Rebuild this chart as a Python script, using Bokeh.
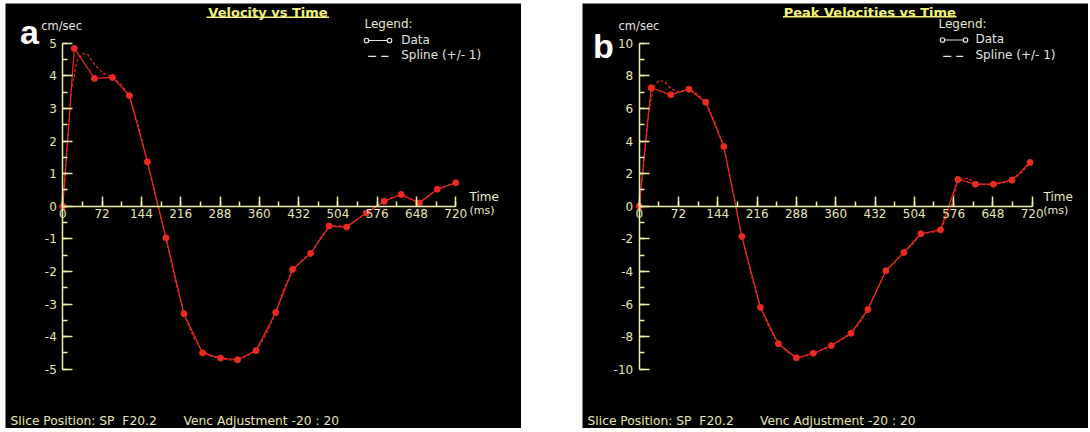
from bokeh.plotting import figure
from bokeh.models import Range1d, SingleIntervalTicker, LinearAxis, PrintfTickFormatter, Spacer
from bokeh.layouts import row, column
from bokeh.embed import file_html
from bokeh.resources import INLINE
from bokeh.core.properties import value

# ---------------- data ----------------
time_a = [0, 21, 58, 91, 122, 155, 189, 222, 256, 289, 320, 354, 390, 421, 454, 488, 520, 556, 589, 620, 653, 686, 720]
vel_a = [0, 4.84, 3.92, 3.95, 3.39, 1.36, -0.97, -3.30, -4.50, -4.66, -4.71, -4.43, -3.26, -1.94, -1.45,
         -0.61, -0.64, -0.21, 0.15, 0.36, 0.10, 0.52, 0.72]
spline_t_a = [0, 8, 16, 26, 36, 46, 58, 72, 91, 106, 122, 138, 155, 172, 189, 205, 222, 239, 256, 272, 289,
              305, 320, 337, 354, 372, 390, 405, 421, 437, 454, 471, 488, 504, 520, 538, 556, 572, 589, 605,
              620, 637, 653, 670, 686, 703, 720]
spline_a = [0, 1.8, 3.6, 4.45, 4.68, 4.65, 4.35, 4.1, 3.95, 3.75, 3.39, 2.5, 1.36, 0.15, -0.97, -2.2, -3.3,
            -4.0, -4.45, -4.6, -4.66, -4.72, -4.72, -4.6, -4.43, -3.95, -3.26, -2.55, -1.94, -1.68, -1.45,
            -1.0, -0.62, -0.6, -0.62, -0.42, -0.2, -0.02, 0.15, 0.28, 0.34, 0.22, 0.12, 0.32, 0.52, 0.63, 0.72]

time_b = [0, 22, 58, 91, 122, 155, 188, 222, 255, 288, 319, 352, 388, 419, 452, 485, 516, 552, 584, 616, 649, 683, 716]
vel_b = [0, 7.26, 6.83, 7.18, 6.38, 3.66, -1.86, -6.20, -8.44, -9.30, -9.02, -8.55, -7.79, -6.34, -3.96,
         -2.84, -1.69, -1.45, 1.64, 1.35, 1.35, 1.60, 2.68]
spline_t_b = [0, 8, 16, 26, 36, 46, 58, 72, 91, 106, 122, 138, 155, 172, 188, 205, 222, 239, 255, 272, 288,
              305, 319, 337, 352, 371, 388, 405, 419, 437, 452, 470, 485, 503, 516, 537, 552, 570, 584, 603,
              616, 636, 649, 668, 683, 702, 716]
spline_b = [0, 2.5, 5.5, 7.3, 7.7, 7.65, 7.2, 7.0, 7.18, 6.9, 6.38, 5.2, 3.66, 0.9, -1.86, -4.2, -6.2, -7.5,
            -8.44, -8.95, -9.30, -9.2, -9.02, -8.8, -8.55, -8.2, -7.79, -7.1, -6.34, -5.0, -3.96, -3.35,
            -2.84, -2.25, -1.69, -1.6, -1.45, -0.2, 1.64, 1.72, 1.35, 1.32, 1.35, 1.45, 1.60, 2.1, 2.68]

x_tick_interval = 72
x_max = 720

titles = ["Velocity vs Time", "Peak Velocities vs Time"]
panel_letters = ["a", "b"]
unit_label = "cm/sec"
legend_labels = ["Legend:", "Data", "Spline (+/- 1)"]
footer_left = "Slice Position: SP\u00a0\u00a0F20.2"
footer_right = "Venc Adjustment -20 : 20"

RED = "#ec2a22"
AXIS = "#f0f0a8"
TICKLBL = "#e6e6b4"
TITLE = "#f2f27a"
WHITE = "#e4e4e4"
FONT = value("DejaVu Sans")

TOP, BOTTOM = 3, 428


def make_panel(left, right, ox, oy, sx, sy, ymax, yint, t, v, st, sv, title, letter, L):
    """L: dict of page-pixel positions for decorations."""
    X = lambda px: (px - ox) / sx
    Y = lambda py: (oy - py) / sy
    p = figure(width=right - left, height=BOTTOM - TOP,
               x_range=Range1d(X(left), X(right)), y_range=Range1d(Y(BOTTOM), Y(TOP)),
               output_backend="svg", toolbar_location=None,
               x_axis_location=None, y_axis_location=None,
               min_border=0, min_border_left=0, min_border_right=0, min_border_top=0, min_border_bottom=0,
               background_fill_color="black", border_fill_color="black", outline_line_color=None)
    p.grid.visible = False

    common = dict(fixed_location=0, axis_line_color=AXIS, axis_line_width=1.5,
                  major_tick_in=10, major_tick_out=0, minor_tick_in=5, minor_tick_out=0,
                  major_tick_line_color=AXIS, minor_tick_line_color=AXIS,
                  major_tick_line_width=1.5, minor_tick_line_width=1.5,
                  major_label_text_color=TICKLBL, major_label_text_font="DejaVu Sans",
                  major_label_text_font_size="12px", formatter=PrintfTickFormatter(format="%d"))
    xaxis = LinearAxis(bounds=(0, x_max),
                       ticker=SingleIntervalTicker(interval=x_tick_interval, num_minor_ticks=2),
                       major_label_standoff=3, **common)
    p.add_layout(xaxis, "below")
    yaxis = LinearAxis(bounds=(-ymax, ymax),
                       ticker=SingleIntervalTicker(interval=yint, num_minor_ticks=2),
                       major_label_standoff=6, **common)
    p.add_layout(yaxis, "left")

    # spline and data
    p.line(st, sv, line_color=RED, line_width=1.3, line_dash="3 2", line_alpha=0.9)
    p.line(t, v, line_color=RED, line_width=1.2)
    p.scatter(t, v, size=6, marker="circle", fill_color=RED, line_color=RED)

    def txt(px, py, s, size, color, align="left", baseline="middle", font=FONT, style="normal"):
        p.text(x=[X(px)], y=[Y(py)], text=[s], text_font=font, text_font_size=size,
               text_color=color, text_align=align, text_baseline=baseline, text_font_style=style)

    # panel letter and unit
    txt(L["letter"][0], L["letter"][1], letter, "34px", "white", baseline="alphabetic",
        font=value("Liberation Sans"), style="bold")
    txt(L["unit"][0], L["unit"][1], unit_label, "11.5px", WHITE)
    # title with underline
    txt(L["title"][0], L["title"][1], title, "13px", TITLE, align="center", style="bold")
    p.line([X(L["uline"][0]), X(L["uline"][1])], [Y(L["uline"][2])] * 2, line_color=TITLE, line_width=1.5)
    # legend
    txt(L["leg"][0], L["leg"][1], legend_labels[0], "12px", "#e8e8d4")
    mx0, mx1, my = L["legdata"]
    p.line([X(mx0), X(mx1)], [Y(my)] * 2, line_color=WHITE, line_width=1.2)
    p.scatter([X(mx0), X(mx1)], [Y(my)] * 2, size=4.5, marker="circle", fill_color="black",
              line_color=WHITE, line_width=1.2)
    txt(L["legtext"], my - 1, legend_labels[1], "12px", WHITE)
    dx0, dx1, dy = L["legspl"]
    p.line([X(dx0), X(dx1)], [Y(dy)] * 2, line_color=WHITE, line_width=1.2, line_dash="8 5")
    txt(L["legtext"], dy - 1.5, legend_labels[2], "12px", WHITE)
    # axis title
    txt(L["time"][0], L["time"][1], "Time", "12px", "#ececcc")
    txt(L["ms"][0], L["ms"][1], "(ms)", "11px", "#ececcc")
    # footer
    txt(L["foot1"], 420, footer_left, "12.3px", TICKLBL)
    txt(L["foot2"], 420, footer_right, "12.3px", TICKLBL)
    return p


LA = dict(letter=(19.5, 31.7), unit=(40.7, 25), title=(267.5, 11.7), uline=(206, 328.5, 16.8),
          leg=(364, 23.3), legdata=(366, 389, 40), legtext=400.7, legspl=(367.7, 388, 55.8),
          time=(469, 196.7), ms=(469, 209.5), foot1=10, foot2=183)
LB = dict(letter=(592.5, 45), unit=(618, 25), title=(869.3, 11.7), uline=(782.5, 956, 16.3),
          leg=(938, 23.3), legdata=(942, 965, 39.5), legtext=975, legspl=(942.7, 962.7, 55.8),
          time=(1043, 196.7), ms=(1042.7, 209.5), foot1=587, foot2=759.5)

A_LEFT, A_RIGHT, B_LEFT, B_RIGHT = 5, 521, 582, 1088
pa = make_panel(A_LEFT, A_RIGHT, 62.3, 205.7, (455.3 - 62.3) / 720, 32.6, 5, 1,
                time_a, vel_a, spline_t_a, spline_a, titles[0], panel_letters[0], LA)
pb = make_panel(B_LEFT, B_RIGHT, 638.7, 205.7, (1031.7 - 638.7) / 720, 16.3, 10, 2,
                time_b, vel_b, spline_t_b, spline_b, titles[1], panel_letters[1], LB)

layout = column(Spacer(height=TOP),
                row(Spacer(width=A_LEFT), pa, Spacer(width=B_LEFT - A_RIGHT), pb))
open("out.html", "w").write(file_html(layout, INLINE))
